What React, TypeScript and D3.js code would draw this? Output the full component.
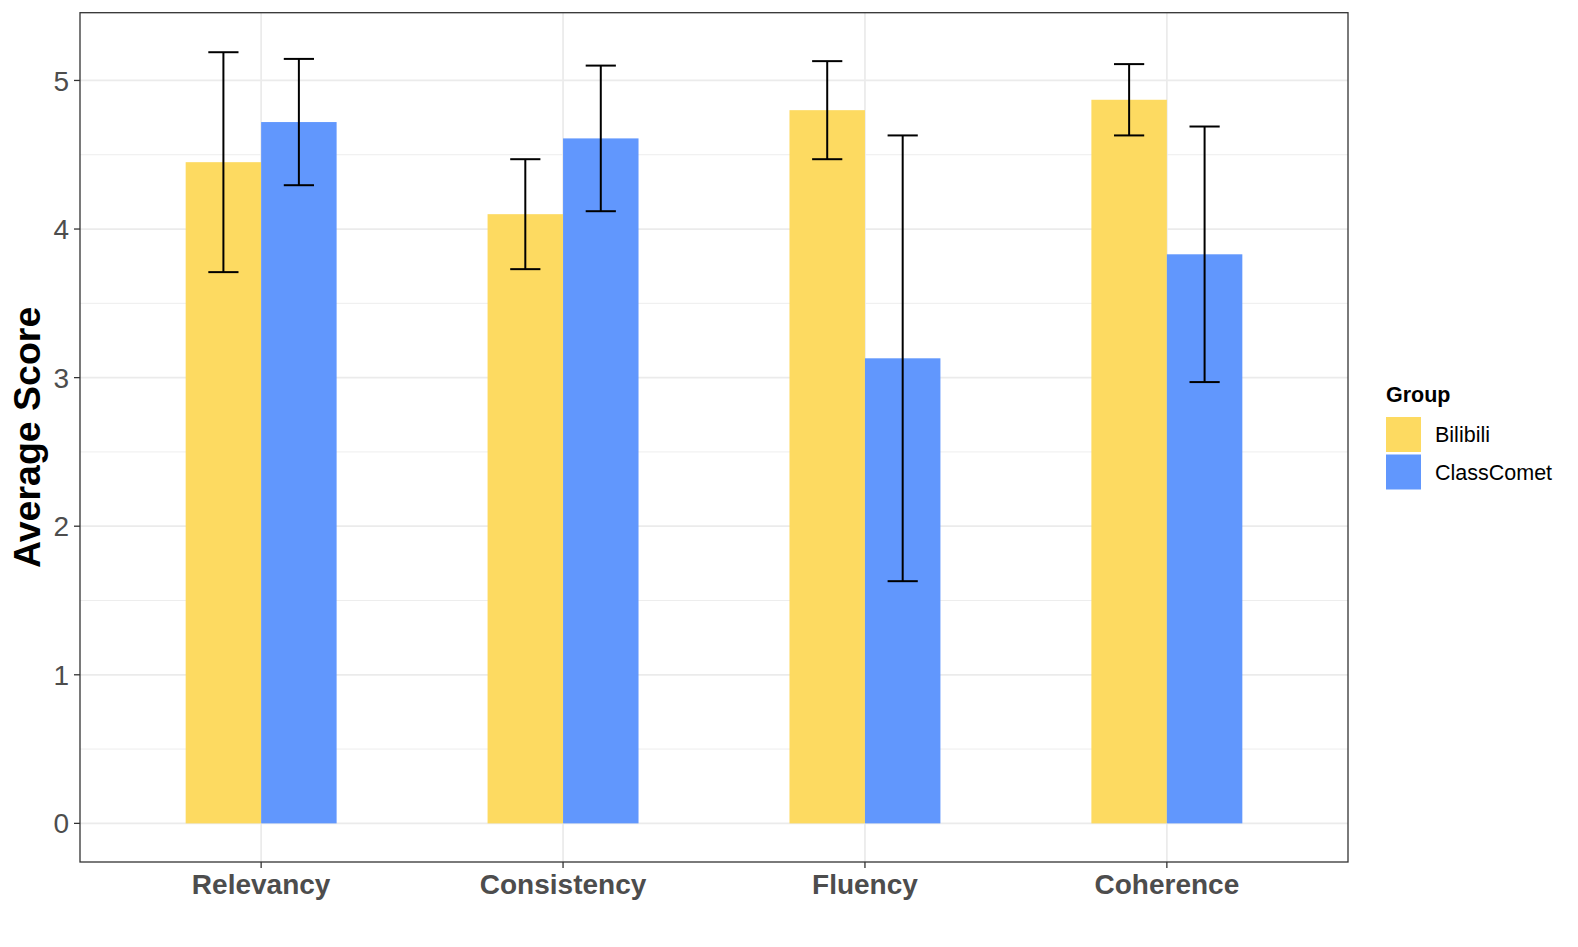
import { scaleBand, scaleLinear, range } from "d3";

const categories = ["Relevancy", "Consistency", "Fluency", "Coherence"];
const groups = ["Bilibili", "ClassComet"];
const colors = ["#FDDA61", "#6197FD"];

// mean score per category, one array per group
const bilibiliMean = [4.45, 4.1, 4.8, 4.87];
const classCometMean = [4.72, 4.61, 3.13, 3.83];
// half width of the error bars
const bilibiliErr = [0.74, 0.37, 0.33, 0.24];
const classCometErr = [0.425, 0.49, 1.5, 0.86];

const yTicks = [0, 1, 2, 3, 4, 5];

const W = 1578;
const H = 947;
const panel = { left: 80, top: 12.7, right: 1348, bottom: 862 };
const font = "'Liberation Sans', Arial, Helvetica, sans-serif";

export default function App() {
  const x = scaleBand<string>()
    .domain(categories)
    .range([panel.left, panel.right])
    .paddingInner(0.5)
    .paddingOuter(0.35);
  const xg = scaleBand<string>().domain(groups).range([0, x.bandwidth()]);
  const y = scaleLinear().domain([-0.26, 5.456]).range([panel.bottom, panel.top]);

  const means = [bilibiliMean, classCometMean];
  const errs = [bilibiliErr, classCometErr];
  const minor = range(0.5, 5.5, 1);
  const capW = xg.bandwidth() * 0.4;

  return (
    <svg
      width={W}
      height={H}
      style={{ position: "absolute", top: 0, left: 0, background: "#fff" }}
      fontFamily={font}
    >
      {/* grid */}
      {minor.map((v) => (
        <line key={"mn" + v} x1={panel.left} x2={panel.right} y1={y(v)} y2={y(v)} stroke="#EBEBEB" strokeWidth={0.9} />
      ))}
      {yTicks.map((v) => (
        <line key={"mj" + v} x1={panel.left} x2={panel.right} y1={y(v)} y2={y(v)} stroke="#EBEBEB" strokeWidth={1.8} />
      ))}
      {categories.map((c) => {
        const cx = x(c)! + x.bandwidth() / 2;
        return <line key={"v" + c} x1={cx} x2={cx} y1={panel.top} y2={panel.bottom} stroke="#EBEBEB" strokeWidth={1.8} />;
      })}

      {/* bars */}
      {groups.map((g, gi) =>
        categories.map((c, i) => (
          <rect
            key={g + c}
            x={x(c)! + xg(g)!}
            y={y(means[gi][i])}
            width={xg.bandwidth()}
            height={y(0) - y(means[gi][i])}
            fill={colors[gi]}
          />
        ))
      )}

      {/* error bars */}
      {groups.map((g, gi) =>
        categories.map((c, i) => {
          const cx = x(c)! + xg(g)! + xg.bandwidth() / 2;
          const hi = y(means[gi][i] + errs[gi][i]);
          const lo = y(means[gi][i] - errs[gi][i]);
          return (
            <g key={"e" + g + c} stroke="#000" strokeWidth={2}>
              <line x1={cx} x2={cx} y1={hi} y2={lo} />
              <line x1={cx - capW / 2} x2={cx + capW / 2} y1={hi} y2={hi} />
              <line x1={cx - capW / 2} x2={cx + capW / 2} y1={lo} y2={lo} />
            </g>
          );
        })
      )}

      {/* panel border */}
      <rect
        x={panel.left}
        y={panel.top}
        width={panel.right - panel.left}
        height={panel.bottom - panel.top}
        fill="none"
        stroke="#333"
        strokeWidth={1.3}
      />

      {/* y axis */}
      {yTicks.map((v) => (
        <g key={"yt" + v}>
          <line x1={panel.left - 6} x2={panel.left} y1={y(v)} y2={y(v)} stroke="#333" strokeWidth={1.3} />
          <text x={panel.left - 11} y={y(v)} dy="0.36em" textAnchor="end" fontSize={28} fill="#4D4D4D">
            {v}
          </text>
        </g>
      ))}
      <text
        transform={`translate(${40},${(panel.top + panel.bottom) / 2}) rotate(-90)`}
        textAnchor="middle"
        fontSize={37.5}
        fontWeight="bold"
        fill="#000"
      >
        Average Score
      </text>

      {/* x axis */}
      {categories.map((c) => {
        const cx = x(c)! + x.bandwidth() / 2;
        return (
          <g key={"xt" + c}>
            <line x1={cx} x2={cx} y1={panel.bottom} y2={panel.bottom + 6} stroke="#333" strokeWidth={1.3} />
            <text x={cx} y={894} textAnchor="middle" fontSize={28} fontWeight="bold" fill="#4D4D4D">
              {c}
            </text>
          </g>
        );
      })}

      {/* legend */}
      <text x={1386} y={402} fontSize={21.5} fontWeight="bold" fill="#000">
        Group
      </text>
      {groups.map((g, gi) => (
        <g key={"lg" + g}>
          <rect x={1386} y={417 + gi * 37.5} width={35} height={35} fill={colors[gi]} />
          <text x={1435} y={417 + gi * 37.5 + 17.5} dy="0.36em" fontSize={21.5} fill="#000">
            {g}
          </text>
        </g>
      ))}
    </svg>
  );
}
